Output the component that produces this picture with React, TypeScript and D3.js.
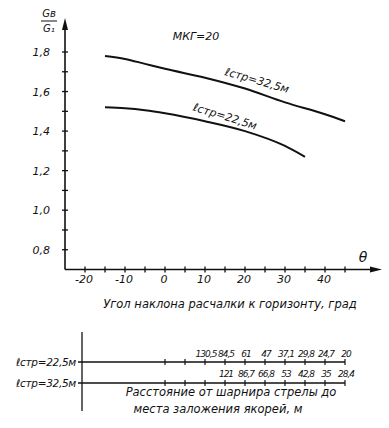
import React, { useRef, useEffect } from 'react';
import * as d3 from 'd3';

const W = 389;
const H = 428;

// angle of guy rope to horizon, deg
const ANGLES_32 = [-15, -10, -5, 0, 10, 20, 30, 40, 45];
const RATIO_32 = [1.78, 1.765, 1.74, 1.715, 1.67, 1.615, 1.545, 1.485, 1.45];
const ANGLES_22 = [-15, -10, -5, 0, 10, 20, 30, 35];
const RATIO_22 = [1.52, 1.515, 1.505, 1.49, 1.45, 1.40, 1.325, 1.27];

const X_TICKS = [-20, -10, 0, 10, 20, 30, 40];
const Y_TICKS = [0.8, 1.0, 1.2, 1.4, 1.6, 1.8];

// anchor distance scale under the chart
const DIST_ANGLES = [0, 5, 10, 15, 20, 25, 30, 35, 40, 45];
const DIST_22_ANGLES = [10, 15, 20, 25, 30, 35, 40, 45];
const DIST_22 = ['130,5', '84,5', '61', '47', '37,1', '29,8', '24,7', '20'];
const DIST_32_ANGLES = [15, 20, 25, 30, 35, 40, 45];
const DIST_32 = ['121', '86,7', '66,8', '53', '42,8', '35', '28,4'];

const FONT = '"DejaVu Sans", sans-serif';

export default function App() {
  const svgRef = useRef<SVGSVGElement>(null);

  useEffect(() => {
    if (!svgRef.current) return;
    const svg = d3.select(svgRef.current);
    svg.selectAll('*').remove();

    const x = d3.scaleLinear().domain([-25, 45]).range([65, 345]);
    const y = d3.scaleLinear().domain([0.7, 1.8]).range([269.5, 52]);
    const x0 = x(-25), y0 = y(0.7);

    const txt = (px: number, py: number, s: string, size = 11, anchor = 'middle') =>
      svg.append('text')
        .attr('x', px).attr('y', py)
        .attr('text-anchor', anchor)
        .attr('font-family', FONT).attr('font-style', 'italic')
        .attr('font-size', size).attr('fill', '#111')
        .text(s);

    // Axes
    svg.append('line').attr('x1', x0).attr('x2', 372).attr('y1', y0).attr('y2', y0)
      .attr('stroke', '#111').attr('stroke-width', 1.6);
    svg.append('path').attr('d', `M382,${y0} L370,${y0 - 3} L370,${y0 + 3} Z`).attr('fill', '#111');
    svg.append('line').attr('x1', x0).attr('x2', x0).attr('y1', y0).attr('y2', 28)
      .attr('stroke', '#111').attr('stroke-width', 1.6);
    svg.append('path').attr('d', `M${x0},18 L${x0 - 3},30 L${x0 + 3},30 Z`).attr('fill', '#111');

    // Axis ticks (every 5 deg / 0.1)
    svg.append('g').selectAll('line')
      .data(d3.range(-20, 46, 5))
      .join('line')
      .attr('x1', d => x(d)).attr('x2', d => x(d))
      .attr('y1', y0 - 3).attr('y2', y0 + 3)
      .attr('stroke', '#111').attr('stroke-width', 1.3);
    svg.append('g').selectAll('line')
      .data(d3.range(0.8, 1.85, 0.1))
      .join('line')
      .attr('x1', x0 - 3).attr('x2', x0 + 3)
      .attr('y1', d => y(d)).attr('y2', d => y(d))
      .attr('stroke', '#111').attr('stroke-width', 1.3);

    X_TICKS.forEach(t => txt(x(t) - 1, 283, String(t), 11));
    Y_TICKS.forEach(t => txt(50, y(t) + 4, t.toFixed(1).replace('.', ','), 11, 'end'));

    // y label G_в / G_1
    txt(49, 17, 'Gв', 10);
    svg.append('line').attr('x1', 41).attr('x2', 57).attr('y1', 21).attr('y2', 21)
      .attr('stroke', '#111').attr('stroke-width', 1);
    txt(49, 32, 'G₁', 10);

    txt(196, 40, 'МКГ=20', 11);
    txt(363, 262, 'θ', 14);

    // Curves
    const line = d3.line<[number, number]>()
      .x(d => x(d[0])).y(d => y(d[1]))
      .curve(d3.curveMonotoneX);

    svg.append('path')
      .datum(ANGLES_32.map((a, i) => [a, RATIO_32[i]] as [number, number]))
      .attr('d', line).attr('fill', 'none')
      .attr('stroke', '#111').attr('stroke-width', 2);
    svg.append('path')
      .datum(ANGLES_22.map((a, i) => [a, RATIO_22[i]] as [number, number]))
      .attr('d', line).attr('fill', 'none')
      .attr('stroke', '#111').attr('stroke-width', 2);

    txt(256, 84, 'ℓстр=32,5м', 11).attr('transform', 'rotate(16,256,84)');
    txt(224, 120, 'ℓстр=22,5м', 11).attr('transform', 'rotate(17,224,120)');

    txt(230, 308, 'Угол наклона расчалки к горизонту, град', 11.5);

    // Distance nomogram
    const nx = 82;
    const rows = [
      { yy: 362, label: 'ℓстр=22,5м', angles: DIST_22_ANGLES, vals: DIST_22, ty: 357 },
      { yy: 383, label: 'ℓстр=32,5м', angles: DIST_32_ANGLES, vals: DIST_32, ty: 377 },
    ];
    svg.append('line').attr('x1', nx).attr('x2', nx).attr('y1', 332).attr('y2', 411)
      .attr('stroke', '#111').attr('stroke-width', 1.3);
    rows.forEach(r => {
      svg.append('line').attr('x1', nx - 4).attr('x2', x(45)).attr('y1', r.yy).attr('y2', r.yy)
        .attr('stroke', '#111').attr('stroke-width', 1.3);
      svg.append('g').selectAll('line')
        .data(DIST_ANGLES)
        .join('line')
        .attr('x1', d => x(d)).attr('x2', d => x(d))
        .attr('y1', r.yy - 3).attr('y2', r.yy + 3)
        .attr('stroke', '#111').attr('stroke-width', 1.2);
      txt(76, r.yy + 4, r.label, 10.5, 'end').attr('letter-spacing', -0.3);
      r.angles.forEach((a, i) =>
        txt(x(a) + 1, r.ty, r.vals[i], 9).attr('letter-spacing', -1));
    });

    txt(231, 396, 'Расстояние от шарнира стрелы до', 11.5);
    txt(218, 413, 'места заложения якорей, м', 11.5);
  }, []);

  return (
    <svg ref={svgRef} width={W} height={H}
      style={{ position: 'absolute', left: 0, top: 0, background: '#fff' }} />
  );
}
